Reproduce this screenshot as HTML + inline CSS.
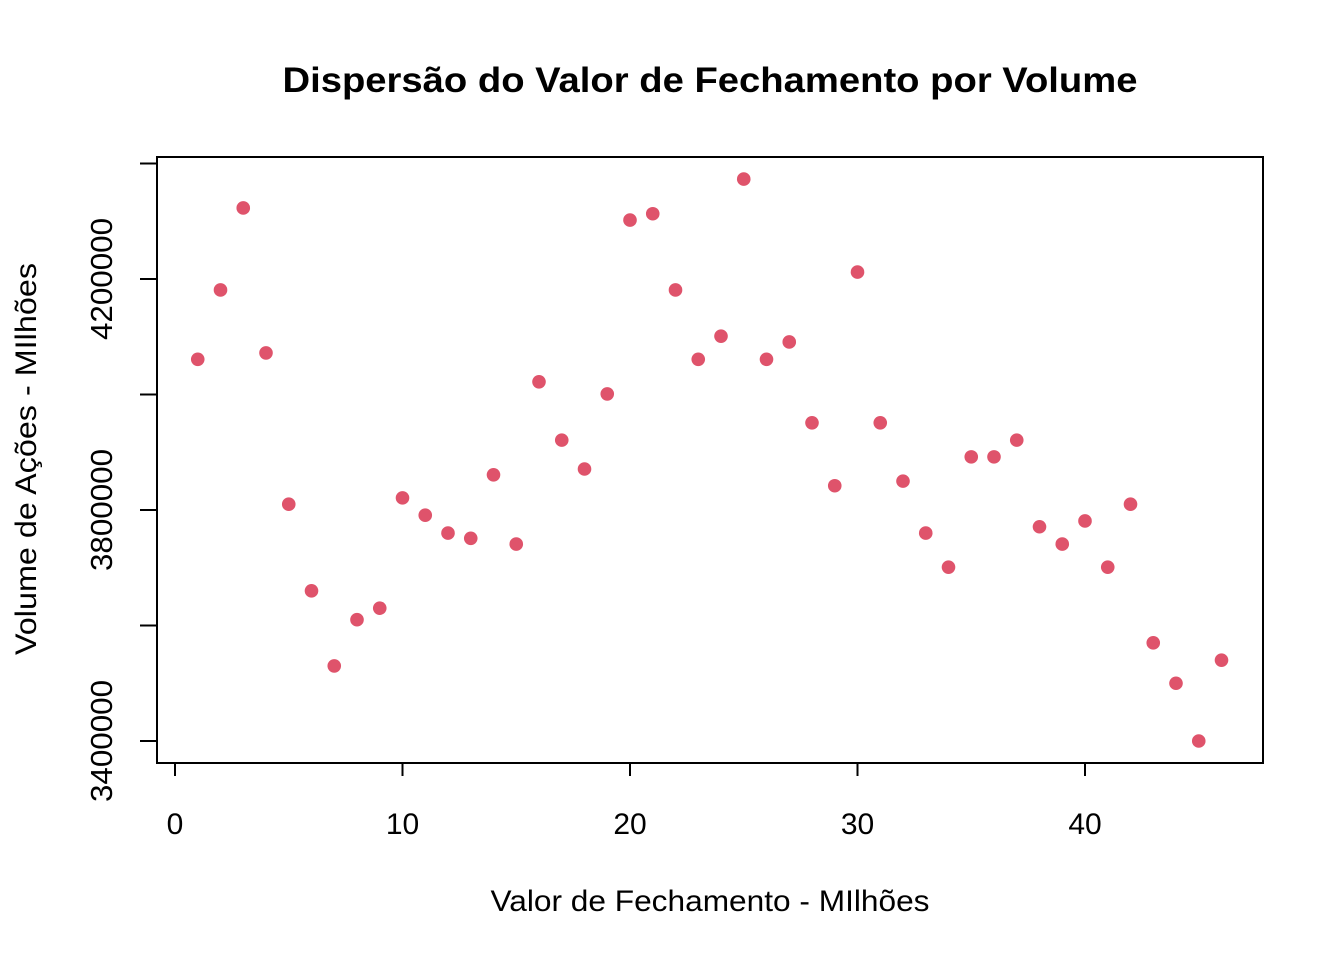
<!DOCTYPE html>
<html><head><meta charset="utf-8"><style>
html,body{margin:0;padding:0;background:#fff;}
svg{display:block;font-family:"Liberation Sans",Arial,sans-serif;}
</style></head><body>
<svg id="chart" width="1344" height="960">
<text x="710" y="92" text-anchor="middle" font-size="35" font-weight="bold" textLength="855" lengthAdjust="spacingAndGlyphs">Dispersão do Valor de Fechamento por Volume</text>
<rect x="157" y="157" width="1106" height="606" fill="none" stroke="#000" stroke-width="2"/>
<text x="710" y="911" text-anchor="middle" font-size="30" textLength="439" lengthAdjust="spacingAndGlyphs">Valor de Fechamento - MIlhões</text>
<text transform="translate(36,459) rotate(-90)" text-anchor="middle" font-size="30" textLength="392" lengthAdjust="spacingAndGlyphs">Volume de Ações - MIlhões</text>
<g id="xaxis"></g>
<g id="yaxis"></g>
<g id="points"></g>
</svg>
<script>
const xValues=[1,2,3,4,5,6,7,8,9,10,11,12,13,14,15,16,17,18,19,20,21,22,23,24,25,26,27,28,29,30,31,32,33,34,35,36,37,38,39,40,41,42,43,44,45,46];
const yValues=[4061000,4181000,4323000,4072000,3810000,3660000,3530000,3610000,3630000,3821000,3791000,3760000,3751000,3861000,3741000,4022000,3921000,3871000,4001000,4302000,4313000,4181000,4061000,4101000,4373000,4061000,4091000,3951000,3842000,4212000,3951000,3850000,3760000,3701000,3892000,3892000,3921000,3771000,3741000,3781000,3701000,3810000,3570000,3500000,3400000,3540000];
const xTicks=[0,10,20,30,40];
const yTicks=[3400000,3600000,3800000,4000000,4200000,4400000];
const yTickLabels=["3400000","","3800000","","4200000",""];
const NS="http://www.w3.org/2000/svg";
function sx(v){return 175+(v-0)*22.75;}
function sy(v){return 741-(v-3400000)*(231/400000);}
function mk(tag,attrs,parent){const e=document.createElementNS(NS,tag);for(const k in attrs)e.setAttribute(k,attrs[k]);parent.appendChild(e);return e;}
const xa=document.getElementById('xaxis'),ya=document.getElementById('yaxis'),pts=document.getElementById('points');
mk('line',{x1:sx(xTicks[0]),x2:sx(xTicks[xTicks.length-1]),y1:763,y2:763,stroke:'#000','stroke-width':2},xa);
xTicks.forEach(t=>{
  const l=mk('line',{x1:sx(t),x2:sx(t),y1:763,y2:776,stroke:'#000','stroke-width':2},xa);
  
  
  const tx=mk('text',{x:sx(t),y:834,'text-anchor':'middle','font-size':30},xa);
  tx.textContent=t;
  
  
});
mk('line',{x1:157,x2:157,y1:sy(yTicks[0]),y2:sy(yTicks[yTicks.length-1]),stroke:'#000','stroke-width':2},ya);
yTicks.forEach((t,i)=>{
  const l=mk('line',{x1:140,x2:157,y1:sy(t),y2:sy(t),stroke:'#000','stroke-width':2},ya);
  
  
  if(yTickLabels[i]){
    const tx=mk('text',{transform:`translate(112,${sy(t)}) rotate(-90)`,'text-anchor':'middle','font-size':31,textLength:122,lengthAdjust:'spacingAndGlyphs'},ya);
    tx.textContent=yTickLabels[i];
    
    
  }
});
xValues.forEach((x,i)=>{
  const c=mk('circle',{cx:sx(x),cy:sy(yValues[i]),r:6.8,fill:'#DF536B'},pts);
  
  
});
</script>
</body></html>
